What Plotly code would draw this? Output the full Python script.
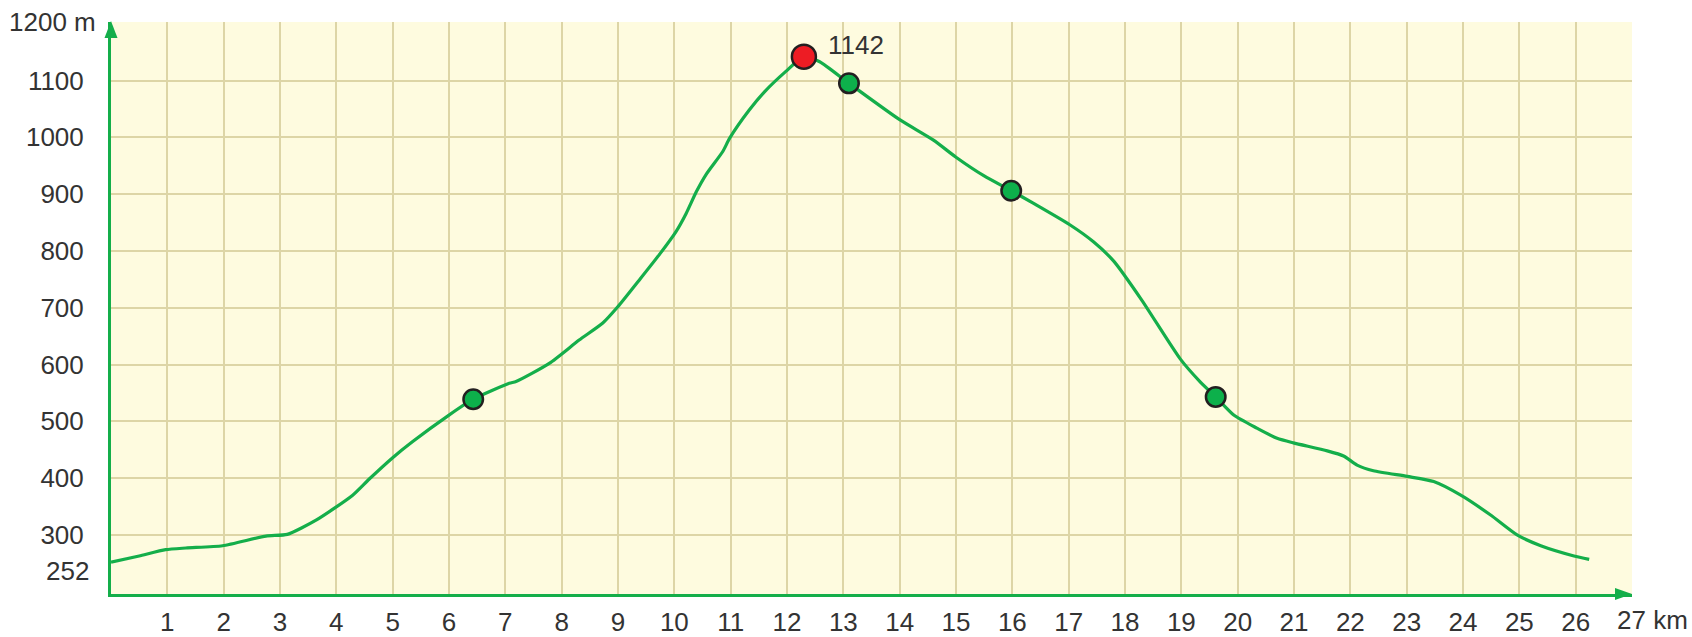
import plotly.graph_objects as go

# ---- data ----
km = [0, 0.5, 0.97, 1.33, 1.98, 2.75, 3.13, 3.64, 4.29, 4.58, 5.0, 5.35, 6.0, 6.43,
      7.07, 7.19, 7.78, 8.31, 8.73, 9.0, 9.38, 9.73, 10.03, 10.21, 10.39, 10.56,
      10.86, 10.98, 11.33, 11.6, 11.98, 12.3, 12.58, 13.1, 14.0, 14.6, 15.0, 15.5,
      15.98, 16.37, 17.02, 17.44, 17.8, 18.3, 18.98, 19.33, 19.61, 19.93, 20.34,
      20.7, 20.99, 21.59, 21.88, 22.12, 22.41, 23.01, 23.48, 23.96, 24.49, 24.96,
      25.38, 25.97, 26.24]
elev = [252, 263, 274, 277, 281, 298, 301, 326, 370, 398, 436, 464, 511, 539,
        567, 570, 602, 643, 673, 702, 749, 793, 834, 866, 904, 934,
        975, 998, 1048, 1080, 1116, 1142, 1133, 1095, 1031, 995, 965, 932,
        906, 884, 846, 816, 782, 713, 610, 570, 543, 511, 488,
        470, 462, 448, 439, 423, 413, 403, 394, 370, 335, 300,
        281, 263, 257]

waypoint_km = [6.43, 13.1, 15.98, 19.61]
waypoint_elev = [539, 1095, 906, 543]
summit_km = [12.3]
summit_elev = [1142]
summit_label = "1142"

x_ticks = list(range(1, 27))
y_ticks = list(range(300, 1101, 100))
start_label = "252"
start_value = 252
x_end_label = "27 km"
y_top_label = "1200 m"

X_RANGE = [0, 27]
Y_RANGE = [196, 1203]

GREEN = "#14AE4A"
GRID = "#DDD5A6"
TEXT = "#333333"
FONT = "Liberation Sans"
FS = 26

fig = go.Figure()
fig.add_trace(go.Scatter(
    x=km, y=elev, mode="lines",
    line=dict(color=GREEN, width=3.2, shape="spline", smoothing=0.6),
    hoverinfo="skip", showlegend=False))
fig.add_trace(go.Scatter(
    x=waypoint_km, y=waypoint_elev, mode="markers",
    marker=dict(size=19.5, color="#0DB04B", line=dict(color="#231F20", width=2.5)),
    showlegend=False))
fig.add_trace(go.Scatter(
    x=summit_km, y=summit_elev, mode="markers",
    marker=dict(size=24, color="#ED1C24", line=dict(color="#231F20", width=2.5)),
    showlegend=False))

tf = dict(family=FONT, size=FS, color=TEXT)
fig.add_annotation(x=summit_km[0], y=summit_elev[0], text=summit_label,
                   showarrow=False, xanchor="left", yanchor="middle",
                   xshift=22, yshift=12, font=tf)
fig.add_annotation(x=X_RANGE[1], y=0, yref="paper", text=x_end_label,
                   showarrow=False, xanchor="left", yanchor="top",
                   xshift=-17, yshift=-9, font=tf)
fig.add_annotation(x=0, xref="paper", y=1200, text=y_top_label,
                   showarrow=False, xanchor="right", yanchor="middle",
                   xshift=-13, yshift=2, font=tf)
fig.add_annotation(x=0, xref="paper", y=start_value, text=start_label,
                   showarrow=False, xanchor="right", yanchor="middle",
                   xshift=-20, yshift=-9, font=tf)

# arrow heads (pixel-sized, anchored at the axis ends)
fig.add_shape(type="path", xref="paper", yref="paper", xsizemode="pixel", ysizemode="pixel",
              xanchor=0, yanchor=1, path="M 0 1 L -6.5 -16 L 6.5 -16 Z",
              fillcolor=GREEN, line=dict(width=0), layer="above")
fig.add_shape(type="path", xref="paper", yref="paper", xsizemode="pixel", ysizemode="pixel",
              xanchor=1, yanchor=0, path="M 0 0 L -17 6 L -17 -6 Z",
              fillcolor=GREEN, line=dict(width=0), layer="above")

fig.update_layout(
    width=1692, height=637,
    margin=dict(l=111, r=60, t=22, b=43),
    paper_bgcolor="white", plot_bgcolor="#FEFBDF",
    font=tf,
    showlegend=False,
)
fig.update_xaxes(range=X_RANGE, tickvals=x_ticks, showgrid=True, gridcolor=GRID,
                 gridwidth=1.8, zeroline=False, showline=True, linecolor=GREEN,
                 linewidth=3, ticks="", ticklabelstandoff=3, automargin=False,
                 tickfont=tf)
fig.update_yaxes(range=Y_RANGE, tickvals=y_ticks, showgrid=True, gridcolor=GRID,
                 gridwidth=1.8, zeroline=False, showline=True, linecolor=GREEN,
                 linewidth=3, ticks="", ticklabelstandoff=19, automargin=False,
                 tickfont=tf)

fig.write_html("out.html", config={"displayModeBar": False},
               post_script="document.body.style.margin='0px';")
